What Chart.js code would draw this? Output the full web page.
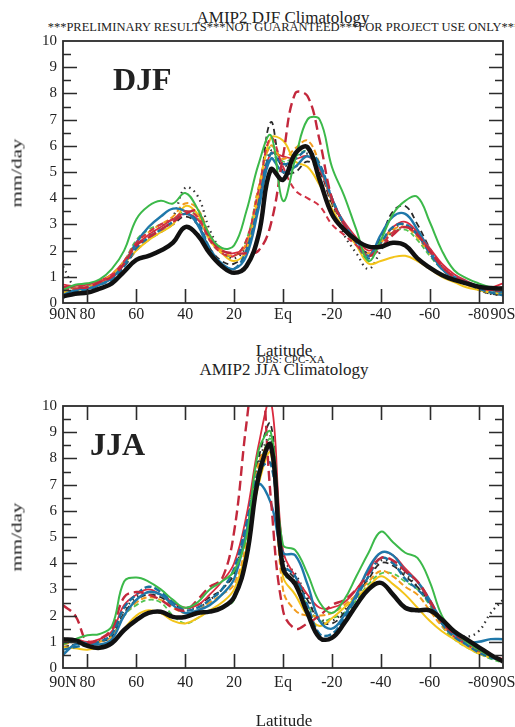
<!DOCTYPE html>
<html>
<head>
<meta charset="utf-8">
<script src="https://cdn.jsdelivr.net/npm/chart.js@4.4.1/dist/chart.umd.min.js"></script>
<style>
    body { margin: 0; background: #fff; }
    #page { position: relative; width: 515px; height: 727px; overflow: hidden; background: #fff; font-family: "Liberation Serif", "DejaVu Serif", serif; color: #222; }
    canvas { position: absolute; left: 0; }
    .txt { position: absolute; white-space: nowrap; line-height: 1; }
    .center { transform: translateX(-50%); }
    .ylab { font-size: 15px; transform: translate(-50%, -50%) rotate(-90deg) scaleX(1.4); }
    .season { font-size: 32px; font-weight: bold; }
</style>
</head>
<body>
<div id="page">
    <div class="txt center" style="left:283px; top:9px; font-size:17px;">AMIP2 DJF Climatology</div>
    <div class="txt center" style="left:284px; top:21px; font-size:12.5px;">***PRELIMINARY RESULTS***NOT GUARANTEED***FOR PROJECT USE ONLY***</div>
    <canvas id="djfChart" width="515" height="340" style="top:0px"></canvas>
    <div class="txt season" style="left:113px; top:63px;">DJF</div>
    <div class="txt ylab" style="left:17px; top:173px;">mm/day</div>
    <div class="txt center" style="left:284px; top:342px; font-size:17px;">Latitude</div>
    <div class="txt center" style="left:291px; top:354px; font-size:11px;">OBS: CPC-XA</div>
    <div class="txt center" style="left:284px; top:361px; font-size:17px;">AMIP2 JJA Climatology</div>
    <canvas id="jjaChart" width="515" height="387" style="top:340px"></canvas>
    <div class="txt season" style="left:90px; top:428px;">JJA</div>
    <div class="txt ylab" style="left:17px; top:537px;">mm/day</div>
    <div class="txt center" style="left:284px; top:712px; font-size:17px;">Latitude</div>
</div>
<script>
// Latitudes (90N -> 90S) y ejes
const lats = [90,85,80,75,70,65,60,55,50,45,40,35,30,25,20,15,10,5,0,-5,-10,-15,-20,-25,-30,-35,-40,-45,-50,-55,-60,-65,-70,-75,-80,-85,-90];
const xTickValues = [90, 80, 60, 40, 20, 0, -20, -40, -60, -80, -90];
const xTickLabels = ['90N', '80', '60', '40', '20', 'Eq', '-20', '-40', '-60', '-80', '90S'];
const yTickValues = [0, 1, 2, 3, 4, 5, 6, 7, 8, 9, 10];

// DJF (mm/day)
const djfObs       = [0.25,0.35,0.4,0.55,0.75,1.2,1.65,1.8,2.0,2.3,2.9,2.6,1.9,1.4,1.15,1.4,2.6,5.1,4.7,5.7,5.95,4.7,3.4,2.8,2.4,2.15,2.15,2.3,2.2,1.7,1.35,1.07,0.88,0.75,0.62,0.57,0.55];
const djfGreen     = [0.5,0.7,0.75,0.9,1.3,2.0,3.2,3.7,3.9,3.8,4.2,3.6,2.6,2.1,2.2,3.5,5.3,6.4,3.9,5.5,7.0,7.0,5.2,4.1,2.8,1.6,2.4,3.4,3.9,4.05,3.1,2.0,1.25,0.95,0.75,0.6,0.5];
const djfRedDashA  = [0.6,0.6,0.6,0.8,1.0,1.5,2.2,2.5,2.8,3.1,3.4,3.5,2.5,2.0,1.9,1.9,2.0,3.0,5.6,8.0,7.9,6.2,4.0,3.0,2.3,1.8,2.1,2.6,2.9,2.6,2.0,1.4,1.0,0.8,0.6,0.5,0.6];
const djfRedDashB  = [0.5,0.55,0.6,0.8,1.05,1.6,2.3,2.7,3.0,3.2,3.5,3.3,2.4,1.9,1.8,2.4,4.3,6.3,5.2,4.3,4.0,3.7,3.0,2.6,2.2,1.8,2.2,2.7,2.9,2.6,2.0,1.4,1.0,0.8,0.6,0.5,0.45];
const djfBlue      = [0.3,0.5,0.55,0.7,0.95,1.5,2.3,2.9,3.3,3.6,3.5,3.0,2.0,1.5,1.3,1.8,3.6,5.5,5.0,5.2,5.6,5.2,4.0,3.0,2.4,1.8,2.6,3.3,3.4,2.8,2.0,1.3,1.0,0.8,0.65,0.5,0.4];
const djfBlueDash  = [0.2,0.45,0.5,0.7,0.9,1.4,2.1,2.5,2.8,3.1,3.4,3.1,2.1,1.5,1.3,2.0,3.8,5.7,5.3,5.5,5.8,5.3,4.0,3.0,2.3,1.7,2.3,2.9,3.0,2.6,1.9,1.3,0.95,0.75,0.55,0.4,0.3];
const djfYellow    = [0.4,0.5,0.55,0.75,1.0,1.5,2.0,2.4,2.7,3.0,3.7,3.4,2.4,1.9,1.6,2.0,4.2,6.3,6.2,5.4,5.2,4.5,3.6,2.8,2.2,1.5,1.6,1.75,1.8,1.6,1.3,1.0,0.8,0.6,0.5,0.4,0.35];
const djfOrangeDash= [0.5,0.55,0.6,0.8,1.1,1.6,2.3,2.7,3.0,3.3,3.8,3.6,2.6,2.0,1.8,2.3,4.4,6.0,5.5,5.9,6.2,5.3,3.9,3.0,2.4,1.9,2.3,2.8,2.9,2.5,1.9,1.3,0.95,0.7,0.55,0.45,0.4];
const djfRed       = [0.7,0.65,0.7,0.85,1.1,1.6,2.2,2.6,2.9,3.2,3.4,3.2,2.5,2.0,1.9,2.2,4.0,5.7,5.6,5.5,5.6,5.1,3.9,3.1,2.5,2.0,2.3,2.9,3.1,2.7,2.1,1.5,1.1,0.85,0.65,0.6,0.75];
const djfBlackDash = [0.3,0.45,0.5,0.7,0.95,1.4,2.0,2.4,2.7,3.0,3.3,3.0,2.1,1.6,1.5,2.0,4.0,6.9,5.0,5.0,5.4,5.0,3.8,3.0,2.4,1.9,2.5,3.5,3.7,3.0,2.1,1.4,1.0,0.75,0.5,0.35,0.3];
const djfBlackDot  = [1.4,0.6,0.55,0.75,1.0,1.5,2.2,2.6,2.9,3.3,4.4,4.1,2.8,2.0,1.7,2.2,4.0,5.8,5.3,5.2,5.7,5.2,3.7,2.6,1.9,1.3,2.0,2.8,3.0,2.6,2.0,1.4,1.0,0.75,0.5,0.35,0.3];
const djfGreenDash = [0.5,0.6,0.65,0.8,1.05,1.6,2.4,2.8,3.0,3.2,3.5,3.3,2.4,1.9,1.8,2.4,4.4,6.0,5.4,5.6,5.8,5.2,3.9,3.0,2.4,1.8,2.2,2.7,2.8,2.4,1.8,1.3,1.0,0.75,0.6,0.5,0.45];

// JJA (mm/day)
const jjaObs       = [1.1,1.05,0.85,0.77,0.95,1.45,1.83,2.1,2.15,1.95,1.95,2.1,2.15,2.3,2.7,4.2,7.3,8.5,3.8,3.2,2.1,1.15,1.15,1.7,2.4,3.0,3.25,2.8,2.3,2.2,2.2,1.85,1.4,1.1,0.8,0.5,0.25];
const jjaGreen     = [0.9,1.1,1.25,1.3,1.6,3.3,3.45,3.3,3.0,2.6,2.3,2.5,3.0,3.3,3.7,5.0,8.3,9.0,4.7,4.5,3.6,2.5,2.1,2.6,3.5,4.4,5.2,4.8,4.4,4.2,3.3,2.0,1.4,1.0,0.7,0.45,0.3];
const jjaRedDashA  = [2.4,2.0,1.0,1.1,1.5,2.7,2.9,2.8,2.6,2.3,2.2,2.6,3.1,3.4,5.2,9.3,12.5,6.5,2.2,1.5,1.7,2.0,2.4,2.6,3.0,3.6,4.2,4.1,3.7,3.3,2.6,1.8,1.3,1.0,0.7,0.5,0.3];
const jjaBlue      = [0.5,0.9,0.95,0.9,1.1,2.0,2.6,2.9,2.8,2.4,2.1,2.2,2.4,2.8,3.4,5.2,7.0,6.3,4.4,4.3,3.2,1.8,1.5,2.0,2.8,3.8,4.4,4.3,3.7,3.3,2.6,1.8,1.3,1.0,1.0,1.1,1.1];
const jjaBlueDash  = [0.7,0.8,0.9,1.0,1.3,2.3,2.8,3.1,2.9,2.5,2.2,2.3,2.6,3.0,3.8,5.5,7.5,7.8,4.0,3.5,2.4,1.3,1.3,1.9,2.7,3.5,4.2,4.0,3.4,3.0,2.5,1.7,1.2,0.9,0.6,0.4,0.3];
const jjaYellow    = [0.8,0.75,0.7,0.8,1.0,1.5,2.0,2.2,2.1,1.8,1.7,1.9,2.2,2.5,3.0,4.5,7.0,8.2,3.5,2.8,2.0,1.6,1.9,2.3,2.7,3.1,3.5,3.2,2.8,2.3,1.8,1.4,1.1,0.8,0.55,0.4,0.3];
const jjaOrangeDash= [0.9,1.0,0.9,1.0,1.2,2.0,2.5,2.7,2.6,2.3,2.1,2.2,2.5,2.8,3.2,4.8,7.8,8.5,3.0,2.2,2.0,2.0,2.1,2.4,2.8,3.3,3.7,3.5,3.1,2.8,2.2,1.6,1.2,0.9,0.6,0.4,0.3];
const jjaRed       = [1.0,1.1,1.0,1.1,1.4,2.4,2.8,3.0,2.8,2.5,2.3,2.4,2.8,3.3,4.0,5.8,8.5,10.2,4.5,3.5,2.8,2.3,2.3,2.5,3.0,3.7,4.4,4.3,3.8,3.3,2.5,1.7,1.2,0.9,0.6,0.45,0.35];
const jjaBlackDash = [0.8,0.9,0.95,1.0,1.2,2.1,2.6,2.8,2.7,2.4,2.3,2.4,2.7,3.0,3.6,5.3,8.0,9.3,4.0,3.4,2.6,1.8,1.7,2.1,2.8,3.4,4.0,3.9,3.5,3.1,2.5,1.7,1.2,0.9,0.65,0.45,0.3];
const jjaBlackDot  = [0.6,0.9,1.0,1.05,1.3,2.2,2.7,2.9,2.8,2.5,2.3,2.3,2.6,3.0,3.7,5.4,7.8,8.8,4.2,3.6,2.7,1.9,1.8,2.2,2.8,3.5,4.1,4.0,3.6,3.1,2.5,1.8,1.4,1.2,1.4,2.1,2.6];
const jjaGreenDash = [0.9,1.0,0.95,1.0,1.25,2.0,2.4,2.6,2.5,2.0,1.7,1.9,2.2,2.3,2.6,4.5,7.5,8.7,3.6,3.3,2.4,1.8,1.9,2.1,2.6,3.2,3.6,3.6,3.3,3.0,2.4,1.6,1.1,0.8,0.55,0.35,0.2];

// Estilos de cada serie (mismo orden que las listas de abajo)
const seriesStyles = [
    { color: '#111111', width: 4.5, dash: [] },        // obs
    { color: '#3cb94a', width: 2.0, dash: [] },        // verde
    { color: '#c3283c', width: 2.4, dash: [10, 5] },   // rojo discontinuo
    { color: '#d23244', width: 2.0, dash: [6, 4] },    // rojo discontinuo 2
    { color: '#1f78aa', width: 2.4, dash: [] },        // azul
    { color: '#19709e', width: 2.4, dash: [7, 3] },    // azul discontinuo
    { color: '#f3c41a', width: 2.0, dash: [] },        // amarillo
    { color: '#f29b1e', width: 2.0, dash: [6, 3] },    // naranja discontinuo
    { color: '#da2a3e', width: 1.8, dash: [] },        // rojo
    { color: '#2a2a2a', width: 1.8, dash: [6, 4] },    // negro discontinuo
    { color: '#333333', width: 2.2, dash: [1.5, 4] },  // negro punteado
    { color: '#52c552', width: 1.8, dash: [5, 3] }     // verde discontinuo
];

const djfSeries = [djfObs, djfGreen, djfRedDashA, djfRedDashB, djfBlue, djfBlueDash, djfYellow, djfOrangeDash, djfRed, djfBlackDash, djfBlackDot, djfGreenDash];
const jjaSeries = [jjaObs, jjaGreen, jjaRedDashA, null, jjaBlue, jjaBlueDash, jjaYellow, jjaOrangeDash, jjaRed, jjaBlackDash, jjaBlackDot, jjaGreenDash];

// Marco y marcas hacia dentro
const frameTicks = {
    id: 'frameTicks',
    afterDatasetsDraw(chart, args, opts) {
        const { ctx, chartArea: { left, right, top, bottom }, scales: { x, y } } = chart;
        ctx.save();
        ctx.strokeStyle = '#2b2b2b';
        ctx.lineWidth = 1.6;
        ctx.beginPath();
        yTickValues.forEach(v => {
            [v, v + 0.5].forEach((t, k) => {
                if (t <= 0 || t >= 10) return;
                const py = Math.round(y.getPixelForValue(t)) + 0.5;
                const len = k === 0 ? 14 : 8;
                ctx.moveTo(left, py); ctx.lineTo(left + len, py);
                ctx.moveTo(right, py); ctx.lineTo(right - len, py);
            });
        });
        xTickValues.forEach(v => {
            if (Math.abs(v) === 90) return;
            const px = Math.round(x.getPixelForValue(v)) + 0.5;
            ctx.moveTo(px, bottom); ctx.lineTo(px, bottom - 14);
            if (opts.topTicks) { ctx.moveTo(px, top); ctx.lineTo(px, top + 14); }
        });
        ctx.stroke();
        ctx.lineWidth = 1.8;
        ctx.strokeRect(left, top, right - left, bottom - top);
        ctx.restore();
    }
};

function makeChart(canvasId, series, padTop, padBottom, labelPad, topTicks) {
    const datasets = [];
    series.forEach((values, i) => {
        if (!values) return;
        const st = seriesStyles[i];
        datasets.push({
            data: lats.map((lat, k) => ({ x: lat, y: values[k] })),
            borderColor: st.color,
            borderWidth: st.width,
            borderDash: st.dash,
            pointRadius: 0,
            tension: 0.4,
            fill: false
        });
    });

    return new Chart(document.getElementById(canvasId), {
        type: 'line',
        data: { datasets },
        plugins: [frameTicks],
        options: {
            responsive: false,
            animation: false,
            events: [],
            layout: { padding: { left: 0, right: 12, top: padTop, bottom: padBottom } },
            plugins: {
                legend: { display: false },
                tooltip: { enabled: false },
                frameTicks: { topTicks }
            },
            scales: {
                x: {
                    type: 'linear',
                    reverse: true,
                    min: -90,
                    max: 90,
                    grid: { display: false, drawTicks: false },
                    border: { display: false },
                    afterBuildTicks: s => { s.ticks = xTickValues.map(v => ({ value: v })); },
                    afterFit: s => { s.height = 30; s.paddingLeft = 0; s.paddingRight = 0; },
                    ticks: {
                        autoSkip: false,
                        maxRotation: 0,
                        padding: labelPad,
                        color: '#222',
                        font: { family: 'Liberation Serif', size: 16 },
                        callback: (v, idx) => xTickLabels[idx]
                    }
                },
                y: {
                    min: 0,
                    max: 10,
                    grid: { display: false, drawTicks: false },
                    border: { display: false },
                    afterBuildTicks: s => { s.ticks = yTickValues.map(v => ({ value: v })); },
                    afterFit: s => { s.width = 63; s.paddingTop = 0; s.paddingBottom = 0; },
                    ticks: {
                        padding: 6,
                        color: '#222',
                        font: { family: 'Liberation Serif', size: 15 }
                    }
                }
            }
        }
    });
}

makeChart('djfChart', djfSeries, 41, 7, 2, false);
makeChart('jjaChart', jjaSeries, 66, 29, 5, true);
</script>
</body>
</html>
